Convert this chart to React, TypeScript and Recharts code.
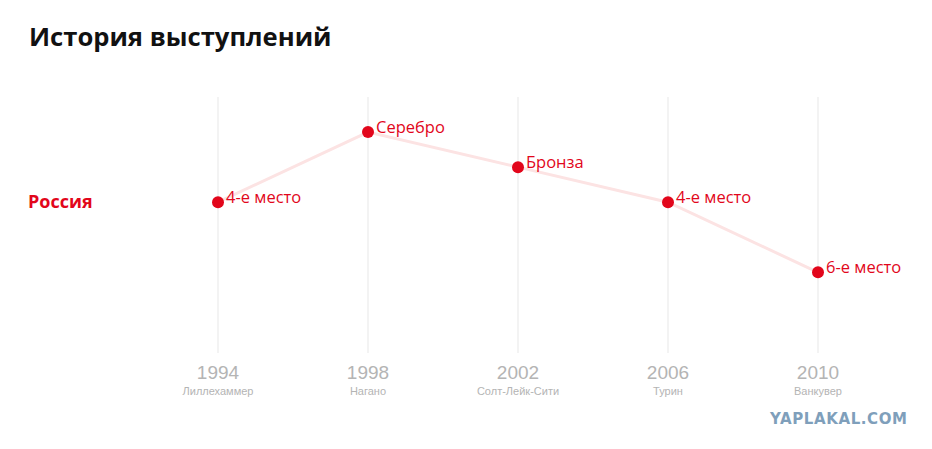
import { LineChart, Line, XAxis, YAxis, CartesianGrid, LabelList } from 'recharts'

const years = [1994, 1998, 2002, 2006, 2010]
const cities = ['Лиллехаммер', 'Нагано', 'Солт-Лейк-Сити', 'Турин', 'Ванкувер']
const places = [4, 2, 3, 4, 6]
const placeLabels = ['4-е место', 'Серебро', 'Бронза', '4-е место', '6-е место']

const RED = '#e2061b'

const data = years.map((y, i) => ({ year: y, place: places[i], label: placeLabels[i] }))

function YearTick({ x, y, payload }: any) {
  const i = years.indexOf(payload.value)
  return (
    <g>
      <text x={x} y={y + 18} textAnchor="middle" fill="#b4b4b4" fontSize={19} fontFamily="'Liberation Sans Narrow', 'Liberation Sans', Arial">
        {payload.value}
      </text>
      <text x={x} y={y + 34} textAnchor="middle" fill="#b4b4b4" fontSize={11} fontFamily="'Liberation Sans', Arial">
        {cities[i]}
      </text>
    </g>
  )
}

function PointLabel({ x, y, value }: any) {
  return (
    <text x={x + 8} y={y + 1} fill={RED} fontSize={16.5} fontFamily="'Open Sans', 'Noto Sans', sans-serif">
      {value}
    </text>
  )
}

export default function App() {
  return (
    <div style={{ position: 'absolute', left: 0, top: 0, width: 932, height: 449, background: '#fff', fontFamily: "'Open Sans', sans-serif" }}>
      <div style={{ position: 'absolute', left: 29, top: 19, fontSize: 25.6, fontWeight: 700, color: '#111' }}>
        История выступлений
      </div>
      <div style={{ position: 'absolute', left: 28, top: 189, fontSize: 18, fontWeight: 700, color: RED }}>
        Россия
      </div>
      <LineChart width={932} height={449} data={data} margin={{ top: 97, right: 114, left: 218, bottom: 36 }}>
        <CartesianGrid vertical horizontal={false} stroke="#f3f3f3" strokeWidth={2} />
        <XAxis
          dataKey="year" type="number" domain={[1994, 2010]} ticks={years}
          axisLine={false} tickLine={false} tick={<YearTick />} height={60}
        />
        <YAxis type="number" domain={[1, 8.3]} reversed hide />
        <Line
          dataKey="place" stroke="#fce3e3" strokeWidth={3}
          dot={{ r: 6, fill: RED, stroke: RED, strokeWidth: 0 }}
          activeDot={false} isAnimationActive={false}
        >
          <LabelList dataKey="label" content={<PointLabel />} />
        </Line>
      </LineChart>
      <div style={{ position: 'absolute', left: 770, top: 410, fontSize: 15, fontWeight: 700, color: '#7f9fbb', fontFamily: "'DejaVu Sans', sans-serif", letterSpacing: 0.6 }}>
        YAPLAKAL.COM
      </div>
    </div>
  )
}
